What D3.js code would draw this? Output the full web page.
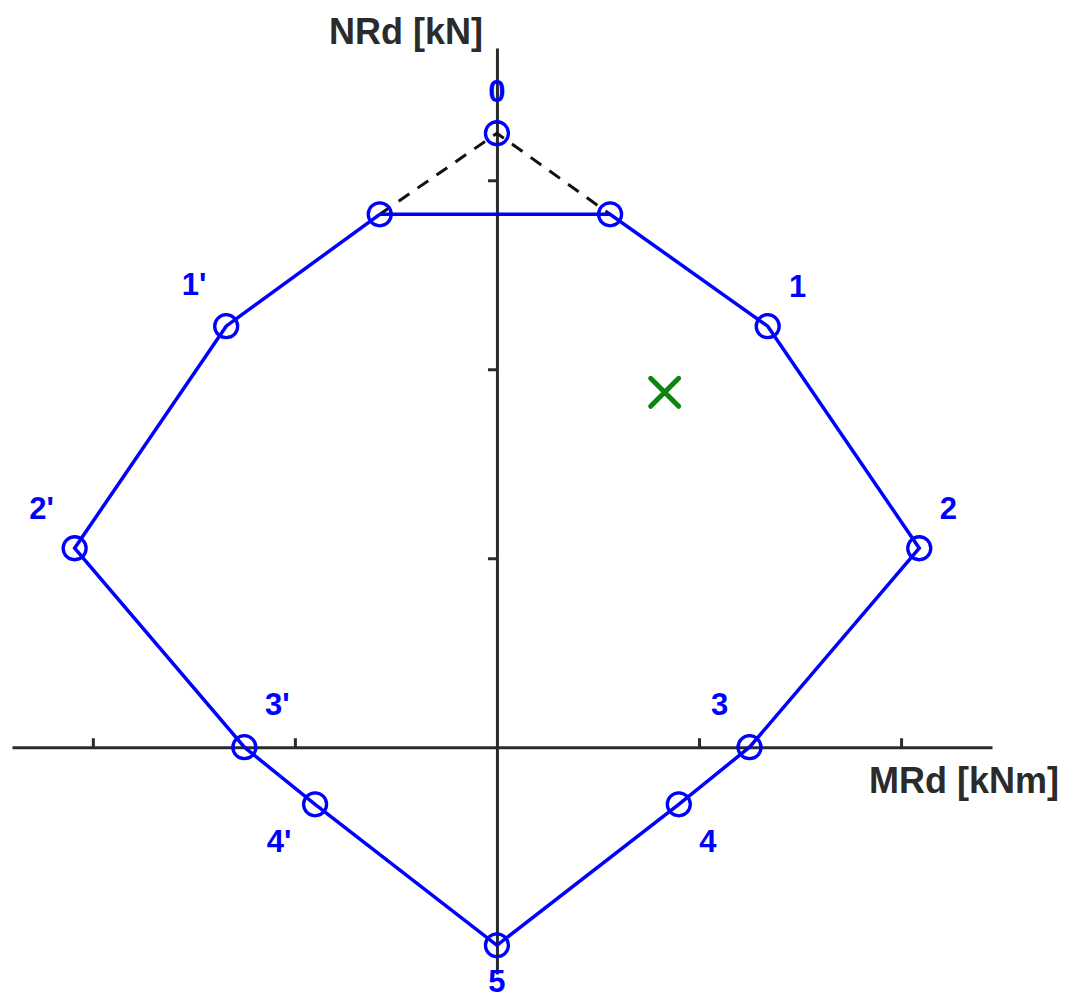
<!DOCTYPE html>
<html>
<head>
<meta charset="utf-8">
<script src="https://cdn.jsdelivr.net/npm/d3@7"></script>
<style>
  body { margin: 0; background: #fff; }
  .axis path, .axis line { stroke: #2b2b2b; stroke-width: 3; }
  .axis text { display: none; }
  .pt-label { font: bold 31px "Liberation Sans", Arial, sans-serif; fill: #0000ff; text-anchor: middle; }
  .ax-title { font: bold 36px "Liberation Sans", Arial, sans-serif; fill: #2b2b2b; }
</style>
</head>
<body>
<svg id="chart" width="1080" height="1001"></svg>
<script>
// interaction diagram points (M in kNm, N in kN)
var labels = ["0", "1", "2", "3", "4", "5", "4'", "3'", "2'", "1'"];
var mRd = [0, 134, 209, 125, 90, 0, -90, -125, -209, -134];
var nRd = [3249, 2228, 1053, 0, -302, -1048, -302, 0, 1053, 2228];
// cut-off corners of the top (dashed to point 0)
var cornerM = [-58, 56];
var cornerN = [2820, 2820];
// design load
var mEd = [83];
var nEd = [1878];
var xTicks = [-200, -100, 100, 200];
var yTicks = [1000, 2000, 3000];

var svg = d3.select("#chart");

var x = d3.scaleLinear().domain([-240, 245]).range([12, 992]);
var y = d3.scaleLinear().domain([-1200, 3700]).range([974, 48]);

// label offsets (px) per point
var offs = {
  "0": [0, -31], "1": [30, -29], "2": [29, -29], "3": [-30, -32], "4": [29, 48], "5": [0, 47],
  "1'": [-32, -31], "2'": [-33, -29], "3'": [33, -32], "4'": [-36, 48]
};

svg.append("g")
    .attr("class", "axis")
    .attr("transform", "translate(0," + y(0) + ")")
    .call(d3.axisTop(x).tickValues(xTicks).tickSize(9).tickSizeOuter(0));

svg.append("g")
    .attr("class", "axis")
    .attr("transform", "translate(" + x(0) + ",0)")
    .call(d3.axisLeft(y).tickValues(yTicks).tickSize(9).tickSizeOuter(0));

svg.append("text").attr("class", "ax-title")
    .attr("x", 329).attr("y", 44).text("NRd [kN]");
svg.append("text").attr("class", "ax-title")
    .attr("x", 1059).attr("y", 793).attr("text-anchor", "end").text("MRd [kNm]");

var pts = labels.map(function(l, i) { return {name: l, m: mRd[i], n: nRd[i]}; });
var corners = cornerM.map(function(m, i) { return {m: m, n: cornerN[i]}; });

// outline: left corner -> right corner -> 1..5 -> 4'..1' -> back
var outline = [corners[0], corners[1]].concat(pts.slice(1), [corners[0]]);
var line = d3.line().x(function(d) { return x(d.m); }).y(function(d) { return y(d.n); });

svg.append("path")
    .datum([corners[0], pts[0], corners[1]])
    .attr("d", line)
    .attr("fill", "none")
    .attr("stroke", "#111")
    .attr("stroke-width", 3)
    .attr("stroke-dasharray", "13,10");

svg.append("path")
    .datum(outline)
    .attr("d", line)
    .attr("fill", "none")
    .attr("stroke", "#0000ff")
    .attr("stroke-width", 3.5);

svg.selectAll(".pt")
    .data(pts.concat(corners))
    .enter().append("circle")
      .attr("class", "pt")
      .attr("cx", function(d) { return x(d.m); })
      .attr("cy", function(d) { return y(d.n); })
      .attr("r", 11.5)
      .attr("fill", "none")
      .attr("stroke", "#0000ff")
      .attr("stroke-width", 3.3);

svg.selectAll(".pt-label")
    .data(pts)
    .enter().append("text")
      .attr("class", "pt-label")
      .attr("x", function(d) { return x(d.m) + offs[d.name][0]; })
      .attr("y", function(d) { return y(d.n) + offs[d.name][1]; })
      .text(function(d) { return d.name; });

// design point cross
svg.selectAll(".ed")
    .data(mEd.map(function(m, i) { return {m: m, n: nEd[i]}; }))
    .enter().append("path")
      .attr("class", "ed")
      .attr("d", function(d) {
        var cx = x(d.m), cy = y(d.n), s = 14;
        return "M" + (cx - s) + "," + (cy - s) + "L" + (cx + s) + "," + (cy + s) +
               "M" + (cx - s) + "," + (cy + s) + "L" + (cx + s) + "," + (cy - s);
      })
      .attr("stroke", "#0a870a")
      .attr("stroke-width", 5)
      .attr("stroke-linecap", "round");
</script>
</body>
</html>
